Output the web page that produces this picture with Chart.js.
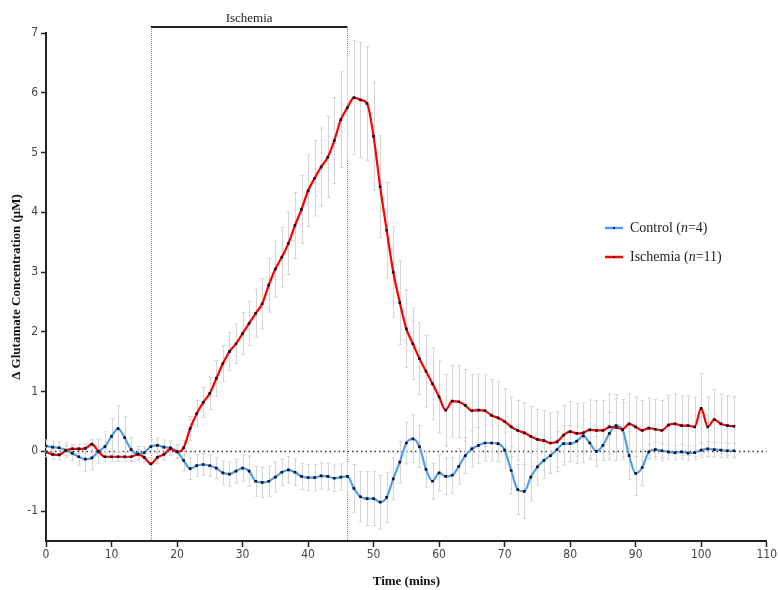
<!DOCTYPE html>
<html>
<head>
<meta charset="utf-8">
<script src="https://cdn.jsdelivr.net/npm/chart.js@4.4.1/dist/chart.umd.min.js"></script>
<style>
  body { margin: 0; background: #fff; }
  canvas { display: block; }
</style>
</head>
<body>
<canvas id="chart" width="778" height="590"></canvas>
<script>
const minutes = [
  0, 1, 2, 3, 4, 5, 6, 7, 8, 9, 10, 11, 12, 13, 14, 15, 16, 17, 18, 19,
  20, 21, 22, 23, 24, 25, 26, 27, 28, 29, 30, 31, 32, 33, 34, 35, 36, 37, 38, 39,
  40, 41, 42, 43, 44, 45, 46, 47, 48, 49, 50, 51, 52, 53, 54, 55, 56, 57, 58, 59,
  60, 61, 62, 63, 64, 65, 66, 67, 68, 69, 70, 71, 72, 73, 74, 75, 76, 77, 78, 79,
  80, 81, 82, 83, 84, 85, 86, 87, 88, 89, 90, 91, 92, 93, 94, 95, 96, 97, 98, 99,
  100, 101, 102, 103, 104, 105,
];

const controlMean = [
  0.09, 0.07, 0.06, 0.02, -0.03, -0.09, -0.13, -0.11, 0.0, 0.08, 0.25, 0.38, 0.23, 0.03, -0.04, -0.02, 0.08, 0.1, 0.07, 0.06,
  0.0, -0.15, -0.29, -0.24, -0.22, -0.24, -0.28, -0.36, -0.38, -0.33, -0.28, -0.33, -0.5, -0.52, -0.5, -0.43, -0.35, -0.31, -0.35, -0.42,
  -0.44, -0.44, -0.41, -0.42, -0.45, -0.43, -0.42, -0.62, -0.76, -0.79, -0.79, -0.85, -0.77, -0.46, -0.18, 0.14, 0.21, 0.08, -0.3, -0.5,
  -0.36, -0.42, -0.4, -0.25, -0.07, 0.04, 0.1, 0.14, 0.14, 0.13, 0.02, -0.32, -0.64, -0.67, -0.43, -0.26, -0.15, -0.07, 0.03, 0.13,
  0.13, 0.17, 0.26, 0.14, 0.0, 0.1, 0.3, 0.43, 0.36, -0.07, -0.37, -0.27, -0.01, 0.03, 0.01, -0.01, -0.02, -0.01, -0.03, -0.02,
  0.02, 0.04, 0.03, 0.02, 0.01, 0.01,
];

const controlSem = [
  0.1, 0.1, 0.1, 0.12, 0.12, 0.15, 0.2, 0.2, 0.2, 0.25, 0.3, 0.38, 0.35, 0.2, 0.12, 0.1, 0.12, 0.12, 0.12, 0.12,
  0.12, 0.18, 0.18, 0.18, 0.18, 0.18, 0.18, 0.2, 0.2, 0.2, 0.22, 0.25, 0.25, 0.25, 0.25, 0.25, 0.22, 0.22, 0.22, 0.22,
  0.22, 0.22, 0.22, 0.22, 0.22, 0.22, 0.25, 0.4, 0.42, 0.45, 0.45, 0.45, 0.42, 0.35, 0.35, 0.35, 0.4, 0.35, 0.3, 0.3,
  0.3, 0.3, 0.3, 0.3, 0.3, 0.3, 0.3, 0.3, 0.3, 0.3, 0.3, 0.4, 0.42, 0.45, 0.4, 0.3, 0.3, 0.3, 0.3, 0.3,
  0.3, 0.25, 0.25, 0.25, 0.25, 0.25, 0.35, 0.45, 0.45, 0.4, 0.37, 0.3, 0.12, 0.12, 0.12, 0.12, 0.12, 0.12, 0.12, 0.12,
  0.12, 0.12, 0.12, 0.12, 0.12, 0.12,
];

const ischemiaMean = [
  -0.01, -0.05, -0.06, 0.01, 0.04, 0.04, 0.05, 0.12, 0.0, -0.09, -0.09, -0.09, -0.09, -0.09, -0.05, -0.1, -0.21, -0.1, -0.05, 0.04,
  -0.01, 0.06, 0.38, 0.63, 0.82, 0.97, 1.22, 1.47, 1.67, 1.8, 1.97, 2.14, 2.31, 2.47, 2.78, 3.05, 3.25, 3.48, 3.78, 4.05,
  4.36, 4.57, 4.76, 4.92, 5.2, 5.55, 5.75, 5.92, 5.88, 5.82, 5.27, 4.43, 3.7, 3.0, 2.49, 2.05, 1.8, 1.55, 1.34, 1.13,
  0.91, 0.69, 0.84, 0.83, 0.77, 0.68, 0.69, 0.68, 0.6, 0.56, 0.5, 0.41, 0.35, 0.31, 0.25, 0.2, 0.18, 0.14, 0.16, 0.27,
  0.33, 0.3, 0.31, 0.36, 0.35, 0.35, 0.41, 0.4, 0.37, 0.46, 0.41, 0.35, 0.39, 0.37, 0.35, 0.44, 0.46, 0.43, 0.43, 0.41,
  0.72, 0.41, 0.53, 0.46, 0.43, 0.42,
];

const ischemiaSem = [
  0.08, 0.08, 0.08, 0.08, 0.08, 0.08, 0.08, 0.08, 0.08, 0.08, 0.08, 0.08, 0.08, 0.08, 0.08, 0.08, 0.1, 0.1, 0.1, 0.1,
  0.1, 0.12, 0.2, 0.22, 0.25, 0.27, 0.3, 0.3, 0.32, 0.33, 0.35, 0.37, 0.4, 0.42, 0.45, 0.47, 0.5, 0.52, 0.55, 0.57,
  0.6, 0.63, 0.65, 0.68, 0.72, 0.8, 0.88, 0.95, 0.97, 0.95, 0.9, 0.85, 0.8, 0.75, 0.7, 0.65, 0.6, 0.6, 0.6, 0.6,
  0.6, 0.6, 0.6, 0.6, 0.6, 0.6, 0.6, 0.6, 0.6, 0.6, 0.55, 0.5, 0.5, 0.5, 0.5, 0.5, 0.5, 0.5, 0.5, 0.5,
  0.5, 0.5, 0.5, 0.5, 0.5, 0.5, 0.55, 0.55, 0.5, 0.5, 0.5, 0.5, 0.5, 0.5, 0.5, 0.5, 0.5, 0.5, 0.5, 0.5,
  0.58, 0.5, 0.5, 0.5, 0.5, 0.5,
];

const ischemiaStart = 16;
const ischemiaEnd = 46;
const xTicks = [0, 10, 20, 30, 40, 50, 60, 70, 80, 90, 100, 110];
const yTicks = [-1, 0, 1, 2, 3, 4, 5, 6, 7];

const CONTROL_COLOR = "#4f9fec";
const ISCHEMIA_COLOR = "#ff0000";
const SERIF = "'Liberation Serif', 'Times New Roman', serif";
const NARROW = "'Liberation Sans Narrow', 'DejaVu Sans Condensed', sans-serif";

const toPoints = (means) => minutes.map((t, i) => ({ x: t, y: means[i] }));

const errorBars = {
  id: "errorBars",
  beforeDatasetsDraw(chart) {
    const { ctx, scales } = chart;
    ctx.save();
    ctx.strokeStyle = "#d6d6d6";
    ctx.lineWidth = 1;
    chart.data.datasets.forEach((ds) => {
      ds.sem.forEach((s, i) => {
        const px = Math.round(scales.x.getPixelForValue(minutes[i])) + 0.5;
        const top = scales.y.getPixelForValue(ds.data[i].y + s);
        const bot = scales.y.getPixelForValue(ds.data[i].y - s);
        ctx.beginPath();
        ctx.moveTo(px, top);
        ctx.lineTo(px, bot);
        ctx.moveTo(px - 2, top);
        ctx.lineTo(px + 2, top);
        ctx.moveTo(px - 2, bot);
        ctx.lineTo(px + 2, bot);
        ctx.stroke();
      });
    });
    ctx.restore();
  },
};

const guides = {
  id: "guides",
  beforeDatasetsDraw(chart) {
    const { ctx, scales, chartArea } = chart;
    ctx.save();
    // ischemia window
    ctx.strokeStyle = "#888";
    ctx.lineWidth = 1;
    ctx.setLineDash([1, 1]);
    [ischemiaStart, ischemiaEnd].forEach((t) => {
      const px = Math.round(scales.x.getPixelForValue(t)) + 0.5;
      ctx.beginPath();
      ctx.moveTo(px, chartArea.top - 6);
      ctx.lineTo(px, chartArea.bottom);
      ctx.stroke();
    });
    // zero line
    const y0 = Math.round(scales.y.getPixelForValue(0)) + 0.5;
    ctx.strokeStyle = "#333";
    ctx.lineWidth = 1.5;
    ctx.setLineDash([1.5, 3]);
    ctx.beginPath();
    ctx.moveTo(chartArea.left, y0);
    ctx.lineTo(chartArea.right, y0);
    ctx.stroke();
    ctx.restore();
  },
  afterDraw(chart) {
    const { ctx, scales, chartArea } = chart;
    const x1 = scales.x.getPixelForValue(ischemiaStart);
    const x2 = scales.x.getPixelForValue(ischemiaEnd);
    const yb = chartArea.top - 6;
    ctx.save();
    ctx.strokeStyle = "#222";
    ctx.lineWidth = 2;
    ctx.beginPath();
    ctx.moveTo(x1, yb);
    ctx.lineTo(x2, yb);
    ctx.stroke();
    ctx.fillStyle = "#222";
    ctx.font = `13px ${SERIF}`;
    ctx.textAlign = "center";
    ctx.textBaseline = "alphabetic";
    ctx.fillText("Ischemia", (x1 + x2) / 2, yb - 5);

    // legend
    const entries = [
      { color: CONTROL_COLOR, label: ["Control (", "n", "=4)"], y: 228 },
      { color: ISCHEMIA_COLOR, label: ["Ischemia (", "n", "=11)"], y: 257 },
    ];
    ctx.textAlign = "left";
    ctx.textBaseline = "middle";
    entries.forEach((e) => {
      ctx.strokeStyle = e.color;
      ctx.lineWidth = 2.5;
      ctx.beginPath();
      ctx.moveTo(605, e.y);
      ctx.lineTo(623, e.y);
      ctx.stroke();
      ctx.fillStyle = "#222";
      ctx.fillRect(613, e.y - 1, 2, 2);
      let x = 630;
      e.label.forEach((part, k) => {
        ctx.font = `${k === 1 ? "italic " : ""}14px ${SERIF}`;
        ctx.fillText(part, x, e.y);
        x += ctx.measureText(part).width;
      });
    });
    ctx.restore();
  },
};

const lineDataset = (label, means, sem, color) => ({
  label,
  data: toPoints(means),
  sem,
  borderColor: color,
  borderWidth: 2.2,
  cubicInterpolationMode: "monotone",
  pointStyle: "rect",
  pointRadius: 1.9,
  pointBorderWidth: 0,
  pointBackgroundColor: "#141428",
});

new Chart(document.getElementById("chart"), {
  type: "line",
  data: {
    datasets: [
      lineDataset("Ischemia (n=11)", ischemiaMean, ischemiaSem, ISCHEMIA_COLOR),
      lineDataset("Control (n=4)", controlMean, controlSem, CONTROL_COLOR),
    ],
  },
  options: {
    responsive: false,
    animation: false,
    devicePixelRatio: 1,
    layout: { padding: { top: 33, right: 4 } },
    plugins: { legend: { display: false }, tooltip: { enabled: false } },
    scales: {
      x: {
        type: "linear",
        min: 0,
        max: 110,
        afterFit: (s) => { s.height = 49; },
        afterBuildTicks: (s) => { s.ticks = xTicks.map((v) => ({ value: v })); },
        ticks: { font: { family: NARROW, size: 12 }, color: "#444", padding: 1, maxRotation: 0 },
        grid: { drawOnChartArea: false, drawTicks: true, tickLength: 6, color: "#222", tickWidth: 1.5 },
        border: { color: "#222", width: 2 },
        title: {
          display: true,
          text: "Time (mins)",
          color: "#111",
          font: { family: SERIF, size: 13, weight: "bold" },
          padding: { top: 0, bottom: 1 },
        },
      },
      y: {
        min: -1.5,
        max: 7,
        afterFit: (s) => { s.width = 46; },
        afterBuildTicks: (s) => { s.ticks = yTicks.map((v) => ({ value: v })); },
        ticks: { font: { family: NARROW, size: 12 }, color: "#444", padding: 3 },
        grid: { drawOnChartArea: false, drawTicks: true, tickLength: 5, color: "#222", tickWidth: 1.5 },
        border: { color: "#222", width: 2 },
        title: {
          display: true,
          text: "Δ Glutamate Concentration (μM)",
          color: "#111",
          font: { family: SERIF, size: 13, weight: "bold" },
          padding: { top: 9, bottom: 0 },
        },
      },
    },
  },
  plugins: [guides, errorBars],
});
</script>
</body>
</html>
